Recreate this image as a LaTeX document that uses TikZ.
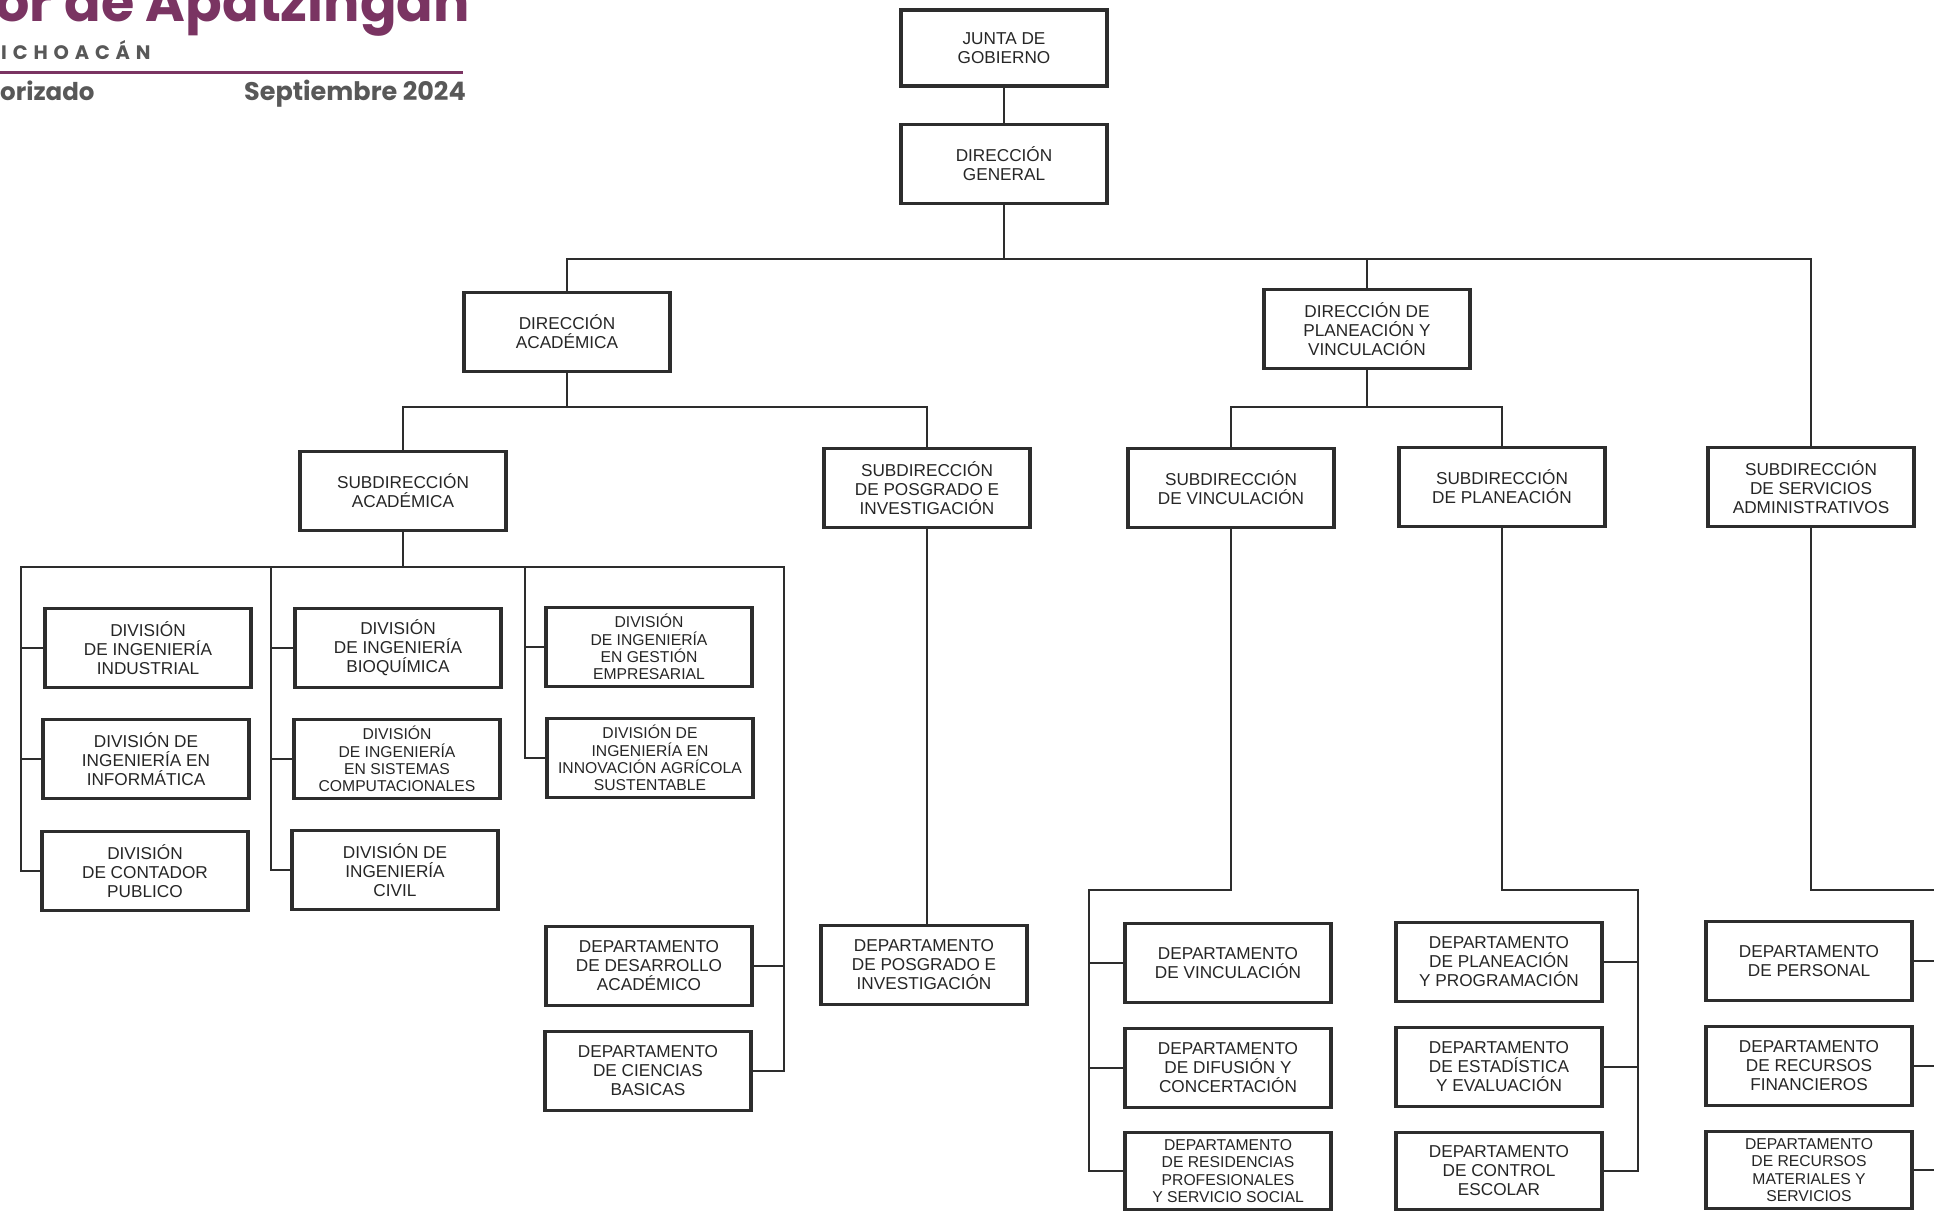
\documentclass[tikz,border=0pt]{standalone}
\usepackage{fontspec}
\setmainfont{Liberation Sans}
\newfontfamily\poppins{Poppins}
\usetikzlibrary{positioning}
\definecolor{guinda}{RGB}{122,52,98}
\definecolor{grisletra}{RGB}{88,88,88}
\definecolor{trazo}{RGB}{45,45,45}
\tikzset{
  caja/.style={draw=trazo, line width=3.4pt, fill=white, minimum width=206pt, minimum height=79pt,
    inner sep=2pt, outer sep=0pt, align=center, text=black!85, font=\fontsize{17.2}{19}\selectfont},
  caja4/.style={caja, font=\fontsize{15.7}{17.4}\selectfont},
  linea/.style={draw=trazo, line width=2.3pt}
}
\begin{document}
\begin{tikzpicture}[x=1pt, y=-1pt]
\useasboundingbox (0,0) rectangle (1934,1213);
% encabezado
\node[anchor=base east, inner sep=0pt, text=guinda, font=\poppins\bfseries\fontsize{54}{54}\selectfont] (titulo) at (470,21) {or de Apatzingán};
\node[anchor=base west, inner sep=0pt, text=grisletra, font=\poppins\bfseries\fontsize{19.5}{19.5}\selectfont\addfontfeature{LetterSpace=30}] (estado) at (1,59) {ICHOACÁN};
\draw[guinda, line width=3pt] (0,72) -- (463,72);
\node[anchor=base west, inner sep=0pt, text=grisletra, font=\poppins\bfseries\fontsize{24.5}{24.5}\selectfont] (autorizado) at (0,100) {orizado};
\node[anchor=base east, inner sep=0pt, text=grisletra, font=\poppins\bfseries\fontsize{25.5}{25.5}\selectfont] (fecha) at (466,100) {Septiembre 2024};

% direcciones
\node[caja, minimum height=76pt] (junta) at (1004,48) {JUNTA DE\\GOBIERNO};
\node[caja] (dirgen) at (1004,164) {DIRECCIÓN\\GENERAL};
\node[caja] (diracad) at (567,332) {DIRECCIÓN\\ACADÉMICA};
\node[caja] (dirplan) at (1367,329) {DIRECCIÓN DE\\PLANEACIÓN Y\\VINCULACIÓN};

% subdirecciones
\node[caja] (subacad) at (403,491) {SUBDIRECCIÓN\\ACADÉMICA};
\node[caja] (subposg) at (927,488) {SUBDIRECCIÓN\\DE POSGRADO E\\INVESTIGACIÓN};
\node[caja] (subvinc) at (1231,488) {SUBDIRECCIÓN\\DE VINCULACIÓN};
\node[caja] (subplan) at (1502,487) {SUBDIRECCIÓN\\DE PLANEACIÓN};
\node[caja] (subserv) at (1811,487) {SUBDIRECCIÓN\\DE SERVICIOS\\ADMINISTRATIVOS};

% divisiones
\node[caja] (divind) at (148,648) {DIVISIÓN\\DE INGENIERÍA\\INDUSTRIAL};
\node[caja] (divinf) at (146,759) {DIVISIÓN DE\\INGENIERÍA EN\\INFORMÁTICA};
\node[caja] (divcp) at (145,871) {DIVISIÓN\\DE CONTADOR\\PUBLICO};
\node[caja] (divbio) at (398,648) {DIVISIÓN\\DE INGENIERÍA\\BIOQUÍMICA};
\node[caja4] (divsis) at (397,759) {DIVISIÓN\\DE INGENIERÍA\\EN SISTEMAS\\COMPUTACIONALES};
\node[caja] (divciv) at (395,870) {DIVISIÓN DE\\INGENIERÍA\\CIVIL};
\node[caja4] (divges) at (649,647) {DIVISIÓN\\DE INGENIERÍA\\EN GESTIÓN\\EMPRESARIAL};
\node[caja4] (divagr) at (650,758) {DIVISIÓN DE\\INGENIERÍA EN\\INNOVACIÓN AGRÍCOLA\\SUSTENTABLE};

% departamentos
\node[caja] (deptdes) at (649,966) {DEPARTAMENTO\\DE DESARROLLO\\ACADÉMICO};
\node[caja] (deptcb) at (648,1071) {DEPARTAMENTO\\DE CIENCIAS\\BASICAS};
\node[caja] (deptposg) at (924,965) {DEPARTAMENTO\\DE POSGRADO E\\INVESTIGACIÓN};
\node[caja] (deptvinc) at (1228,963) {DEPARTAMENTO\\DE VINCULACIÓN};
\node[caja] (deptdif) at (1228,1068) {DEPARTAMENTO\\DE DIFUSIÓN Y\\CONCERTACIÓN};
\node[caja4, minimum height=77pt] (deptres) at (1228,1171) {DEPARTAMENTO\\DE RESIDENCIAS\\PROFESIONALES\\Y SERVICIO SOCIAL};
\node[caja] (deptprog) at (1499,962) {DEPARTAMENTO\\DE PLANEACIÓN\\Y PROGRAMACIÓN};
\node[caja] (deptest) at (1499,1067) {DEPARTAMENTO\\DE ESTADÍSTICA\\Y EVALUACIÓN};
\node[caja, minimum height=77pt] (deptce) at (1499,1171) {DEPARTAMENTO\\DE CONTROL\\ESCOLAR};
\node[caja] (deptper) at (1809,961) {DEPARTAMENTO\\DE PERSONAL};
\node[caja] (deptfin) at (1809,1066) {DEPARTAMENTO\\DE RECURSOS\\FINANCIEROS};
\node[caja4, minimum height=77pt] (deptmat) at (1809,1170) {DEPARTAMENTO\\DE RECURSOS\\MATERIALES Y\\SERVICIOS};

% lineas
\coordinate (bus1) at (0,259);
\coordinate (bus2) at (0,407);
\coordinate (bus3) at (0,567);
\coordinate (bus4) at (0,890);
\coordinate (eje1) at (21,0);
\coordinate (eje2) at (271,0);
\coordinate (eje3) at (525,0);
\coordinate (eje4) at (784,0);
\coordinate (eje5) at (1089,0);
\coordinate (eje6) at (1638,0);
\coordinate (eje7) at (1950,0);
\draw[linea] (junta.south) -- (dirgen.north);
\draw[linea] (dirgen.south) -- (dirgen.south |- bus1);
\draw[linea] (diracad.north) |- (bus1 -| subserv) -- (subserv.north);
\draw[linea] (dirplan.north) -- (dirplan.north |- bus1);
\draw[linea] (diracad.south) -- (diracad.south |- bus2);
\draw[linea] (subacad.north) |- (bus2 -| subposg) -- (subposg.north);
\draw[linea] (dirplan.south) -- (dirplan.south |- bus2);
\draw[linea] (subvinc.north) |- (bus2 -| subplan) -- (subplan.north);
\draw[linea] (subacad.south) -- (subacad.south |- bus3);
\draw[linea] (divcp.west) -| (bus3 -| eje1) -- (bus3 -| eje4) |- (deptcb.east);
\draw[linea] (divciv.west) -| (bus3 -| eje2);
\draw[linea] (divagr.west) -| (bus3 -| eje3);
\draw[linea] (subposg.south) -- (subposg.south |- deptposg.north);
\draw[linea] (subvinc.south) |- (bus4 -| eje5) |- (deptres.west);
\draw[linea] (subplan.south) |- (bus4 -| eje6) |- (deptce.east);
\draw[linea] (subserv.south) |- (bus4 -| eje7) |- (deptmat.east);
\foreach \n/\e in {divind/eje1, divinf/eje1, divbio/eje2, divsis/eje2, divges/eje3, deptvinc/eje5, deptdif/eje5}
  \draw[linea] (\n.west) -- (\n.west -| \e);
\foreach \n/\e in {deptdes/eje4, deptprog/eje6, deptest/eje6, deptper/eje7, deptfin/eje7}
  \draw[linea] (\n.east) -- (\n.east -| \e);
\end{tikzpicture}
\end{document}
